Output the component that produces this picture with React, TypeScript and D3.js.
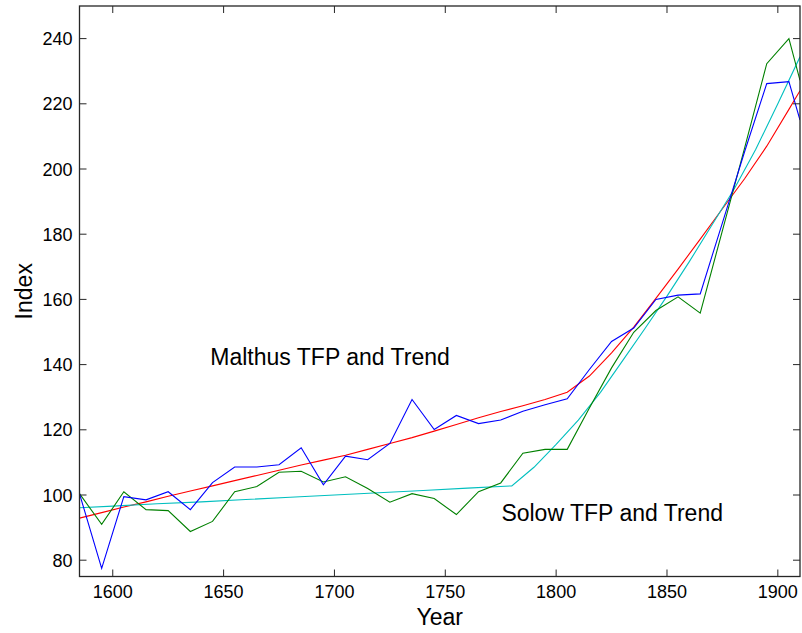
import React from "react";
import * as d3 from "d3";

const years = [
  1585, 1595, 1605, 1615, 1625, 1635, 1645, 1655, 1665, 1675, 1685, 1695,
  1705, 1715, 1725, 1735, 1745, 1755, 1765, 1775, 1785, 1795, 1805, 1815,
  1825, 1835, 1845, 1855, 1865, 1875, 1885, 1895, 1905, 1910,
];

const malthusTFP = [
  100.4, 77.5, 99.5, 98.5, 101, 95.5, 103.8, 108.6, 108.6, 109.3, 114.5, 103.1,
  111.9, 110.8, 115.8, 129.3, 120.1, 124.4, 121.9, 123, 125.7, 127.7, 129.5, 138.5,
  147.1, 151.2, 160, 161.3, 161.7, 183.5, 205.3, 226.2, 226.8, 215,
];

const solowTFP = [
  100.4, 91, 101, 95.5, 95.2, 88.8, 91.9, 101, 102.6, 107, 107.3, 104,
  105.6, 102, 97.8, 100.4, 98.9, 94, 101, 103.7, 112.8, 114, 114, 126.7,
  139, 149.9, 156.6, 160.8, 155.8, 181.1, 206.4, 232.3, 240, 227.2,
];

const malthusTrend = [
  92.9, 94.6, 96.3, 97.9, 99.6, 101.2, 102.8, 104.4, 106, 107.6, 109.2, 110.7,
  112.2, 114, 115.8, 117.6, 119.6, 121.6, 123.7, 125.6, 127.4, 129.3, 131.5, 136.5,
  143.6, 151.5, 160.3, 169.3, 178.5, 187.8, 197, 207, 218.3, 224,
];

const solowTrendYears = [
  1585, 1600, 1620, 1640, 1660, 1680, 1700, 1720, 1740, 1760, 1780, 1790,
  1800, 1810, 1820, 1830, 1840, 1850, 1860, 1870, 1880, 1890, 1900, 1910,
];

const solowTrend = [
  96.1, 96.6, 97.3, 97.9, 98.6, 99.3, 100, 100.7, 101.4, 102.1, 102.8, 108.5,
  115.5, 123, 131.5, 141.2, 151, 161, 171.5, 182.5, 193.5, 206, 220, 234.4,
];

const xTicks = [1600, 1650, 1700, 1750, 1800, 1850, 1900];
const yTicks = [80, 100, 120, 140, 160, 180, 200, 220, 240];

const labels = [
  { text: "Malthus TFP and Trend", year: 1644, value: 139.8 },
  { text: "Solow TFP and Trend", year: 1775.3, value: 92.0 },
];

const W = 802;
const H = 633;
const FONT = "'Liberation Sans', Arial, Helvetica, sans-serif";

export default function App() {
  React.useEffect(() => {
    document.body.style.margin = "0";
  }, []);

  const x = d3.scaleLinear().domain([1585, 1910]).range([79.5, 800]);
  const y = d3.scaleLinear().domain([75, 250]).range([576.5, 6]);
  const [x0, x1] = x.range();
  const [y0, y1] = y.range();
  const tickLen = 7;

  const line = (xs: number[], vs: number[]) =>
    d3
      .line<number>()
      .x((_, i) => x(xs[i]))
      .y((v) => y(v))(vs) || "";

  const series = [
    { xs: years, vs: malthusTrend, color: "#ff0000" },
    { xs: solowTrendYears, vs: solowTrend, color: "#00bfbf" },
    { xs: years, vs: solowTFP, color: "#008000" },
    { xs: years, vs: malthusTFP, color: "#0000ff" },
  ];

  return (
    <svg
      width={W}
      height={H}
      style={{ display: "block", position: "absolute", left: 0, top: 0, background: "#fff" }}
      fontFamily={FONT}
    >
      <rect x={0} y={0} width={W} height={H} fill="#fff" />
      <defs>
        <clipPath id="plotClip">
          <rect x={x0} y={y1} width={x1 - x0} height={y0 - y1} />
        </clipPath>
      </defs>
      <g clipPath="url(#plotClip)">
        {series.map((s, i) => (
          <path key={i} d={line(s.xs, s.vs)} fill="none" stroke={s.color} strokeWidth={1.1} />
        ))}
      </g>
      <rect x={x0} y={y1} width={x1 - x0} height={y0 - y1} fill="none" stroke="#262626" strokeWidth={1.3} />
      {xTicks.map((t) => (
        <g key={"x" + t}>
          <line x1={x(t)} x2={x(t)} y1={y0} y2={y0 - tickLen} stroke="#262626" strokeWidth={1} />
          <line x1={x(t)} x2={x(t)} y1={y1} y2={y1 + tickLen} stroke="#262626" strokeWidth={1} />
          <text x={x(t)} y={y0 + 21.5} textAnchor="middle" fontSize={18} fill="#000">
            {t}
          </text>
        </g>
      ))}
      {yTicks.map((t) => (
        <g key={"y" + t}>
          <line x1={x0} x2={x0 + tickLen} y1={y(t)} y2={y(t)} stroke="#262626" strokeWidth={1} />
          <line x1={x1} x2={x1 - tickLen} y1={y(t)} y2={y(t)} stroke="#262626" strokeWidth={1} />
          <text x={x0 - 7} y={y(t) + 6.6} textAnchor="end" fontSize={18} fill="#000">
            {t}
          </text>
        </g>
      ))}
      <text x={(x0 + x1) / 2} y={624.5} textAnchor="middle" fontSize={23} fill="#000">
        Year
      </text>
      <text
        transform={`translate(32,${(y0 + y1) / 2}) rotate(-90)`}
        textAnchor="middle"
        fontSize={23}
        fill="#000"
      >
        Index
      </text>
      {labels.map((l) => (
        <text key={l.text} x={x(l.year)} y={y(l.value)} fontSize={23} fill="#000">
          {l.text}
        </text>
      ))}
    </svg>
  );
}
